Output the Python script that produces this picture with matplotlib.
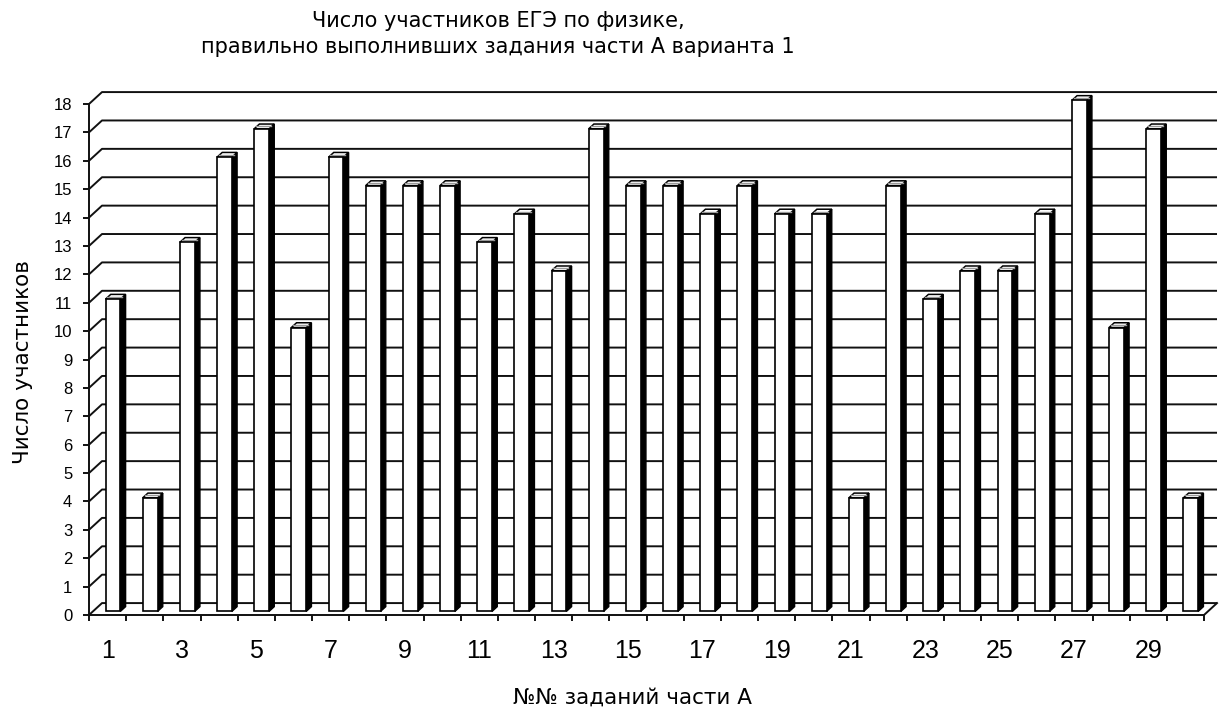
import matplotlib
matplotlib.use("Agg")
import matplotlib.pyplot as plt
from matplotlib.patches import Polygon

plt.rcParams['font.family'] = ['Liberation Sans', 'DejaVu Sans']

tasks = list(range(1, 31))
counts = [11, 4, 13, 16, 17, 10, 16, 15, 15, 15, 13, 14, 12, 17, 15,
          15, 14, 15, 14, 14, 4, 15, 11, 12, 12, 14, 18, 10, 17, 4]
y_ticks = list(range(0, 19))
x_labels = [str(t) if t % 2 == 1 else "" for t in tasks]

title = "Число участников ЕГЭ по физике,\nправильно выполнивших задания части А варианта 1"
ylabel = "Число участников"
xlabel = "№№ заданий части А"

W, H = 1221, 712
fig = plt.figure(figsize=(W / 100, H / 100), dpi=100)
ax = fig.add_axes([89 / W, (H - 615) / H, (1204 - 89) / W, (615 - 104) / H])
n = len(counts)
ymax = 18
ax.set_xlim(0, n)
ax.set_ylim(0, ymax)

# 3D depth offsets in data units
dxb, dyb = 0.35, 0.42      # back wall offset
bar_off = 0.30             # bar front plane depth fraction
bar_dep = 0.40             # bar depth fraction
fx, fy = dxb * bar_off, dyb * bar_off
ddx, ddy = dxb * bar_dep, dyb * bar_dep
bar_left = 0.34
bar_w = 0.40

lc = '#111111'
# gridlines on back wall with diagonals to front axis
for k in y_ticks:
    ax.plot([0, dxb, n + dxb], [k, k + dyb, k + dyb], color=lc, lw=1.4,
            clip_on=False, zorder=1, solid_capstyle='butt')
ax.plot([n, n + dxb], [0, dyb], color=lc, lw=1.4, clip_on=False, zorder=1)

# bars
for i, v in enumerate(counts):
    xl = i + bar_left + fx
    xr = xl + bar_w
    y0 = fy
    y1 = v + fy
    side = Polygon([(xr, y0), (xr + ddx, y0 + ddy), (xr + ddx, y1 + ddy), (xr, y1)],
                   closed=True, facecolor='black', edgecolor='black', lw=1.0,
                   zorder=3, clip_on=False)
    top = Polygon([(xl, y1), (xl + ddx, y1 + ddy), (xr + ddx, y1 + ddy), (xr, y1)],
                  closed=True, facecolor='white', edgecolor='black', lw=1.1,
                  zorder=3, clip_on=False)
    ax.add_patch(side)
    ax.add_patch(top)
    ax.plot([xl + ddx * 0.35, xr + ddx * 0.35], [y1 + ddy * 0.5, y1 + ddy * 0.5],
            color='#999999', lw=1.0, zorder=4, clip_on=False)
    ax.bar(xl, v, width=bar_w, bottom=y0, align='edge', facecolor='white',
           edgecolor='black', lw=1.2, zorder=4, clip_on=False)

for s in ['top', 'right']:
    ax.spines[s].set_visible(False)
for s in ['left', 'bottom']:
    ax.spines[s].set_linewidth(1.4)
    ax.spines[s].set_color(lc)
    ax.spines[s].set_zorder(5)

ax.set_yticks(y_ticks)
ax.set_yticklabels([str(k) for k in y_ticks], fontsize=12)
ax.set_xticks(range(n + 1))
ax.set_xticklabels([""] * (n + 1))
ax.set_xticks([i + 0.5 for i in range(n)], minor=True)
ax.set_xticklabels(x_labels, minor=True, fontsize=18)
ax.tick_params(axis='x', which='minor', length=0, pad=17)
ax.tick_params(axis='x', which='major', length=4, width=1.4, color=lc)
ax.tick_params(axis='y', length=4, width=1.4, color=lc, pad=8)

tfont = ['DejaVu Sans']
fig.text(498 / W, 1 - 34 / H, title, ha='center', va='center', fontsize=15,
         linespacing=1.35, family=tfont)
fig.text(23 / W, 1 - 362 / H, ylabel, rotation=90, ha='center', va='center',
         fontsize=15.5, family=tfont)
fig.text(513 / W, 1 - 698 / H, xlabel, ha='left', va='center', fontsize=15.5,
         family=tfont)

fig.savefig("out.png", dpi=100)
